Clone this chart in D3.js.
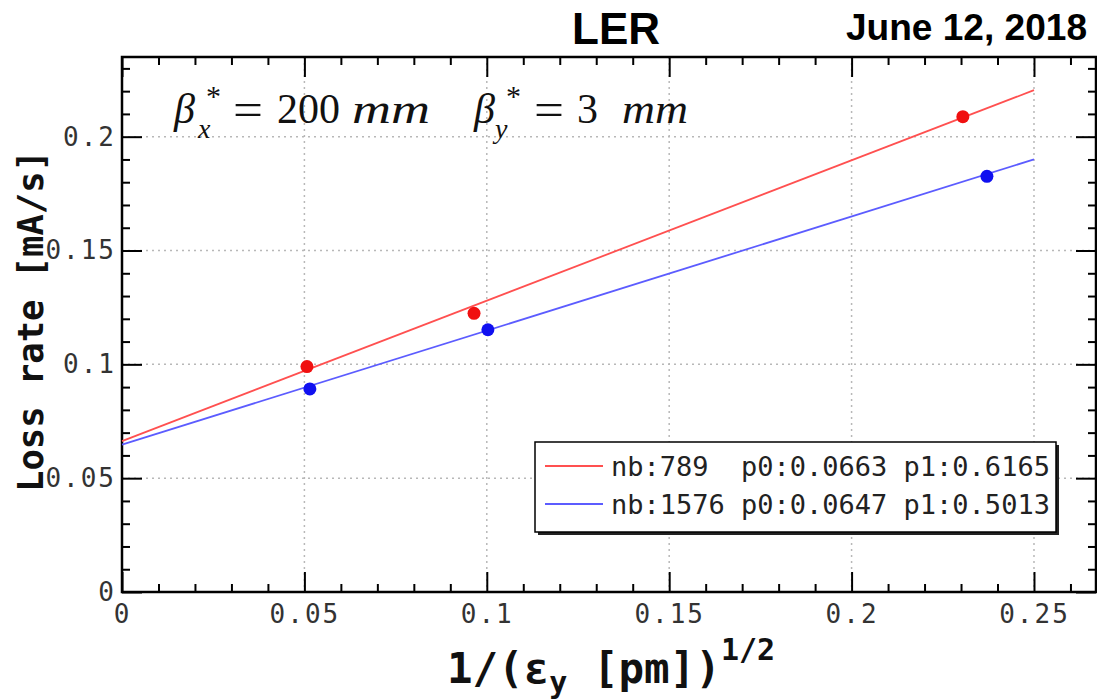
<!DOCTYPE html>
<html>
<head>
<meta charset="utf-8">
<script src="https://cdn.jsdelivr.net/npm/d3@7"></script>
<style>
  body { margin: 0; background: #fff; }
  svg text { white-space: pre; }
</style>
</head>
<body>
<svg id="chart" width="1097" height="699"></svg>
<script>
// Axis ticks and labels
const xTicks = [0, 0.05, 0.1, 0.15, 0.2, 0.25];
const xTickLabels = ["0", "0.05", "0.1", "0.15", "0.2", "0.25"];
const yTicks = [0, 0.05, 0.1, 0.15, 0.2];
const yTickLabels = ["0", "0.05", "0.1", "0.15", "0.2"];
const xDomain = [0, 0.267];
const yDomain = [0, 0.235];

// Fit results per bunch setting
const seriesNames = ["nb:789", "nb:1576"];
const p0 = [0.0663, 0.0647];
const p1 = [0.6165, 0.5013];
const fitRange = [0, 0.25];

// Measured points
const redX = [0.0507, 0.0965, 0.2305];
const redY = [0.0990, 0.1224, 0.2088];
const blueX = [0.0515, 0.1003, 0.2371];
const blueY = [0.0892, 0.1152, 0.1826];

const lineColors = ["#ff5050", "#5c5cff"];
const dotColors = ["#f01010", "#1010f0"];

const svg = d3.select("#chart");
const L = 122, R = 1096, T = 57, B = 592;
const x = d3.scaleLinear(xDomain, [L, R]);
const y = d3.scaleLinear(yDomain, [B, T]);

// Grid
const grid = svg.append("g").attr("stroke", "#b8b8b8").attr("stroke-width", 1.5)
  .attr("stroke-dasharray", "2,4");
xTicks.filter(d => d > 0).forEach(d => {
  grid.append("line").attr("x1", x(d)).attr("x2", x(d)).attr("y1", T).attr("y2", B);
});
yTicks.filter(d => d > 0).forEach(d => {
  grid.append("line").attr("x1", L).attr("x2", R).attr("y1", y(d)).attr("y2", y(d));
});

// Axes (ticks point inward)
const xMinor = d3.range(0, 0.2651, 0.01).filter(v => !xTicks.some(t => Math.abs(t - v) < 1e-6));
const yMinor = d3.range(0, 0.2351, 0.01).filter(v => !yTicks.some(t => Math.abs(t - v) < 1e-6));

function styleAxis(g) {
  g.select(".domain").remove();
  g.selectAll(".tick line").attr("stroke", "#000").attr("stroke-width", 2);
  g.selectAll("text").attr("font-family", "DejaVu Sans Mono").attr("font-size", 26)
    .attr("fill", "#333").attr("letter-spacing", "2px");
}

svg.append("g").attr("transform", `translate(0,${B})`)
  .call(d3.axisBottom(x).tickValues(xTicks).tickSize(-20).tickPadding(13)
    .tickFormat((d, i) => xTickLabels[i])).call(styleAxis);
svg.append("g").attr("transform", `translate(0,${B})`)
  .call(d3.axisBottom(x).tickValues(xMinor).tickSize(-8).tickFormat("")).call(styleAxis);
svg.append("g").attr("transform", `translate(0,${T})`)
  .call(d3.axisTop(x).tickValues(xTicks).tickSize(-20).tickFormat("")).call(styleAxis);
svg.append("g").attr("transform", `translate(0,${T})`)
  .call(d3.axisTop(x).tickValues(xMinor).tickSize(-8).tickFormat("")).call(styleAxis);

svg.append("g").attr("transform", `translate(${L},0)`)
  .call(d3.axisLeft(y).tickValues(yTicks).tickSize(-20).tickPadding(6)
    .tickFormat((d, i) => yTickLabels[i])).call(styleAxis);
svg.append("g").attr("transform", `translate(${L},0)`)
  .call(d3.axisLeft(y).tickValues(yMinor).tickSize(-8).tickFormat("")).call(styleAxis);
svg.append("g").attr("transform", `translate(${R},0)`)
  .call(d3.axisRight(y).tickValues(yTicks).tickSize(-20).tickFormat("")).call(styleAxis);
svg.append("g").attr("transform", `translate(${R},0)`)
  .call(d3.axisRight(y).tickValues(yMinor).tickSize(-8).tickFormat("")).call(styleAxis);

// Frame
svg.append("rect").attr("x", L).attr("y", T).attr("width", R - L).attr("height", B - T)
  .attr("fill", "none").attr("stroke", "#000").attr("stroke-width", 2.5);

// Fit lines
const line = d3.line().x(d => x(d[0])).y(d => y(d[1]));
p0.forEach((a, i) => {
  svg.append("path")
    .datum(fitRange.map(v => [v, a + p1[i] * v]))
    .attr("d", line).attr("fill", "none")
    .attr("stroke", lineColors[i]).attr("stroke-width", 1.8);
});

// Data points
[[redX, redY], [blueX, blueY]].forEach(([xs, ys], i) => {
  svg.append("g").selectAll("circle").data(xs).join("circle")
    .attr("cx", d => x(d)).attr("cy", (d, j) => y(ys[j])).attr("r", 6.5)
    .attr("fill", dotColors[i]);
});

// Legend
const lg = svg.append("g");
const lx = 535, ly = 442, lw = 521, lh = 90;
lg.append("rect").attr("x", lx + 3).attr("y", ly + 3).attr("width", lw).attr("height", lh).attr("fill", "#222");
lg.append("rect").attr("x", lx).attr("y", ly).attr("width", lw).attr("height", lh)
  .attr("fill", "#fff").attr("stroke", "#000").attr("stroke-width", 1.5);
seriesNames.forEach((name, i) => {
  const cy = ly + 24 + i * 38;
  lg.append("line").attr("x1", lx + 10).attr("x2", lx + 68).attr("y1", cy).attr("y2", cy)
    .attr("stroke", lineColors[i]).attr("stroke-width", 2);
  lg.append("text").attr("x", lx + 76).attr("y", cy + 10)
    .attr("font-family", "DejaVu Sans Mono").attr("font-size", 27).attr("fill", "#222")
    .text(`${name.padEnd(8)}p0:${p0[i].toFixed(4)} p1:${p1[i].toFixed(4)}`);
});

// Titles
svg.append("text").attr("x", 616).attr("y", 44).attr("text-anchor", "middle")
  .attr("font-family", "Liberation Sans").attr("font-weight", "bold").attr("font-size", 44)
  .text("LER");
svg.append("text").attr("x", 846).attr("y", 40)
  .attr("font-family", "Liberation Sans").attr("font-weight", "bold").attr("font-size", 36)
  .attr("textLength", 241).attr("lengthAdjust", "spacingAndGlyphs")
  .text("June 12, 2018");

// Beam optics annotation
const f = svg.append("g").attr("font-family", "Liberation Serif").attr("fill", "#111");
function put(px, base, str, size, italic, len) {
  const t = f.append("text").attr("x", px).attr("y", base).attr("font-size", size)
    .attr("font-style", italic ? "italic" : "normal").text(str);
  if (len) t.attr("textLength", len).attr("lengthAdjust", "spacingAndGlyphs");
}
put(174, 123, "β", 42, true);
put(206, 106, "*", 30, false);
put(198, 138, "x", 28, true);
put(233, 125, "=", 46, false, 30);
put(277, 123, "200", 42, false, 63);
put(352, 123, "mm", 42, true, 78);
put(474, 123, "β", 42, true);
put(506, 106, "*", 30, false);
put(495, 138, "y", 28, true);
put(534, 125, "=", 46, false, 30);
put(577, 123, "3", 42, false);
put(622, 123, "mm", 42, true, 66);

// Axis titles
svg.append("text").attr("transform", "translate(43,321) rotate(-90)").attr("text-anchor", "middle")
  .attr("font-family", "DejaVu Sans Mono").attr("font-weight", "bold").attr("font-size", 35.5)
  .attr("fill", "#111").text("Loss rate [mA/s]");

const xt = svg.append("text").attr("x", 611).attr("y", 683).attr("text-anchor", "middle")
  .attr("font-family", "DejaVu Sans Mono").attr("font-weight", "bold").attr("font-size", 42.5)
  .attr("fill", "#111");
xt.append("tspan").text("1/(ε");
xt.append("tspan").attr("font-size", 30).attr("dy", 10).text("y");
xt.append("tspan").attr("dy", -10).text(" [pm])");
xt.append("tspan").attr("font-size", 30).attr("dy", -23).text("1/2");
</script>
</body>
</html>
